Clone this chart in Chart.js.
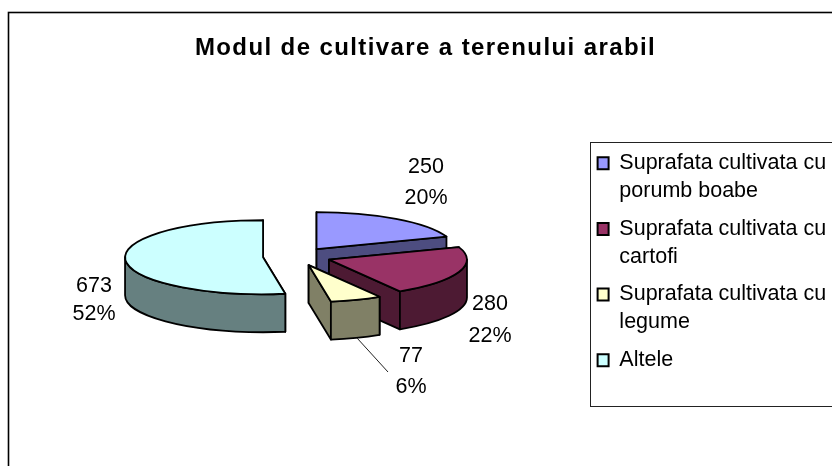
<!DOCTYPE html>
<html>
<head>
<meta charset="utf-8">
<style>html,body{margin:0;padding:0;background:#fff}canvas{display:block}</style>
<script src="https://cdn.jsdelivr.net/npm/chart.js@4/dist/chart.umd.min.js"></script>
</head>
<body>
<canvas id="c" width="832" height="466"></canvas>
<script>
const chartTitle = 'Modul de cultivare a terenului arabil';
const categories = [
  ['Suprafata cultivata cu', 'porumb boabe'],
  ['Suprafata cultivata cu', 'cartofi'],
  ['Suprafata cultivata cu', 'legume'],
  ['Altele']
];
const values = [250, 280, 77, 673];
const percentLabels = ['20%', '22%', '6%', '52%'];
const topColors = ['#9999FF', '#993366', '#FFFFCC', '#CCFFFF'];
const wallColors = ['#4D4D80', '#4D1A33', '#808066', '#668080'];

const FONT = '"Liberation Sans", Arial, sans-serif';
const TILT = 37 / 138;       // vertical squash of the pie
const DEPTH = 38;            // extrusion height
const EXPLODE = 34;          // slice pull-out distance
const CENTER_Y = 256.5;
const labelSpots = [
  [[426, 167], [426, 198]],
  [[490, 304], [490, 336]],
  [[411, 356], [411, 387]],
  [[94, 286], [94, 314]]
];

function geom(chart, arc) {
  const cy0 = (chart.chartArea.top + chart.chartArea.bottom) / 2;
  return {
    x: arc.x,
    y: CENTER_Y + (arc.y - cy0) * TILT,
    rx: arc.outerRadius,
    ry: arc.outerRadius * TILT,
    a0: arc.startAngle,
    a1: arc.endAngle
  };
}

const pie3d = {
  id: 'pie3d',
  afterDatasetsUpdate(chart) {
    chart.getDatasetMeta(0).data.forEach(arc => {
      const mid = (arc.startAngle + arc.endAngle) / 2;
      arc.x += Math.cos(mid) * EXPLODE;
      arc.y += Math.sin(mid) * EXPLODE;
    });
  },
  beforeDraw(chart) {
    const ctx = chart.ctx;
    ctx.save();
    ctx.fillStyle = '#fff';
    ctx.fillRect(0, 0, chart.width, chart.height);
    ctx.strokeStyle = '#000';
    ctx.lineWidth = 1.6;
    ctx.strokeRect(8.5, 12.5, 900, 600);
    ctx.strokeStyle = '#222';
    ctx.lineWidth = 1;
    ctx.strokeRect(590.5, 142.5, 300, 264);
    ctx.restore();
    if (!chart.titleBlock._spaced) {
      const t = chart.titleBlock, d = t.draw;
      t._spaced = true;
      t.draw = function () {
        ctx.letterSpacing = '1.4px';
        d.apply(this, arguments);
        ctx.letterSpacing = '0px';
      };
    }
  },
  afterLayout(chart) {
    const l = chart.legend;
    const h = l.bottom - l.top, w = l.right - l.left;
    l.left = 588; l.right = l.left + w;
    l.top = 143; l.bottom = l.top + h;
    const t = chart.titleBlock;
    t.left = 19; t.right = 832;
  },
  beforeDatasetsDraw(chart) {
    const ctx = chart.ctx;
    const arcs = chart.getDatasetMeta(0).data;
    ctx.save();
    ctx.lineJoin = 'round';
    ctx.strokeStyle = '#000';
    ctx.lineWidth = 1.8;
    arcs.forEach((arc, i) => {
      const g = geom(chart, arc);
      ctx.fillStyle = wallColors[i];
      [g.a0, g.a1].forEach(a => {
        const ex = g.x + Math.cos(a) * g.rx, ey = g.y + Math.sin(a) * g.ry;
        ctx.beginPath();
        ctx.moveTo(g.x, g.y);
        ctx.lineTo(ex, ey);
        ctx.lineTo(ex, ey + DEPTH);
        ctx.lineTo(g.x, g.y + DEPTH);
        ctx.closePath();
        ctx.fill();
        ctx.stroke();
      });
      const s = Math.max(g.a0, 0), e = Math.min(g.a1, Math.PI);
      if (e > s) {
        ctx.beginPath();
        ctx.ellipse(g.x, g.y, g.rx, g.ry, 0, s, e);
        ctx.lineTo(g.x + Math.cos(e) * g.rx, g.y + Math.sin(e) * g.ry + DEPTH);
        ctx.ellipse(g.x, g.y + DEPTH, g.rx, g.ry, 0, e, s, true);
        ctx.closePath();
        ctx.fill();
        ctx.stroke();
      }
    });
    ctx.restore();
    const cy0 = (chart.chartArea.top + chart.chartArea.bottom) / 2;
    ctx.save();
    ctx.translate(0, CENTER_Y);
    ctx.scale(1, TILT);
    ctx.translate(0, -cy0);
  },
  afterDatasetsDraw(chart) {
    const ctx = chart.ctx;
    ctx.restore();
    ctx.save();
    ctx.lineJoin = 'round';
    ctx.strokeStyle = '#000';
    ctx.lineWidth = 1.8;
    chart.getDatasetMeta(0).data.forEach(arc => {
      const g = geom(chart, arc);
      ctx.beginPath();
      ctx.moveTo(g.x, g.y);
      ctx.ellipse(g.x, g.y, g.rx, g.ry, 0, g.a0, g.a1);
      ctx.closePath();
      ctx.stroke();
    });
    ctx.strokeStyle = '#222';
    ctx.lineWidth = 1;
    ctx.beginPath();
    ctx.moveTo(357, 338);
    ctx.lineTo(388, 372);
    ctx.stroke();
    ctx.fillStyle = '#000';
    ctx.font = '21.5px ' + FONT;
    ctx.textAlign = 'center';
    ctx.textBaseline = 'middle';
    values.forEach((v, i) => {
      const [a, b] = labelSpots[i];
      ctx.fillText(String(v), a[0], a[1]);
      ctx.fillText(percentLabels[i], b[0], b[1]);
    });
    ctx.restore();
  }
};

new Chart(document.getElementById('c'), {
  type: 'pie',
  data: {
    labels: categories,
    datasets: [{
      data: values,
      backgroundColor: topColors,
      borderWidth: 0,
      radius: 138,
      clip: false
    }]
  },
  options: {
    responsive: false,
    animation: false,
    events: [],
    layout: { padding: { left: 10, right: 0, top: 0, bottom: 0 } },
    plugins: {
      tooltip: { enabled: false },
      title: {
        display: true,
        text: chartTitle,
        color: '#000',
        font: { family: FONT, size: 24, weight: 'bold', lineHeight: 1.2 },
        padding: { top: 33.6, bottom: 0 }
      },
      legend: {
        position: 'right',
        align: 'start',
        labels: {
          color: '#000',
          boxWidth: 11,
          boxHeight: 12,
          padding: 9.6,
          font: { family: FONT, size: 21.5, lineHeight: 28 / 21.5 },
          generateLabels(chart) {
            return categories.map((text, i) => ({
              text,
              fillStyle: topColors[i],
              strokeStyle: '#000',
              lineWidth: 2,
              hidden: false,
              index: i
            }));
          }
        }
      }
    }
  },
  plugins: [pie3d]
});
</script>
</body>
</html>
